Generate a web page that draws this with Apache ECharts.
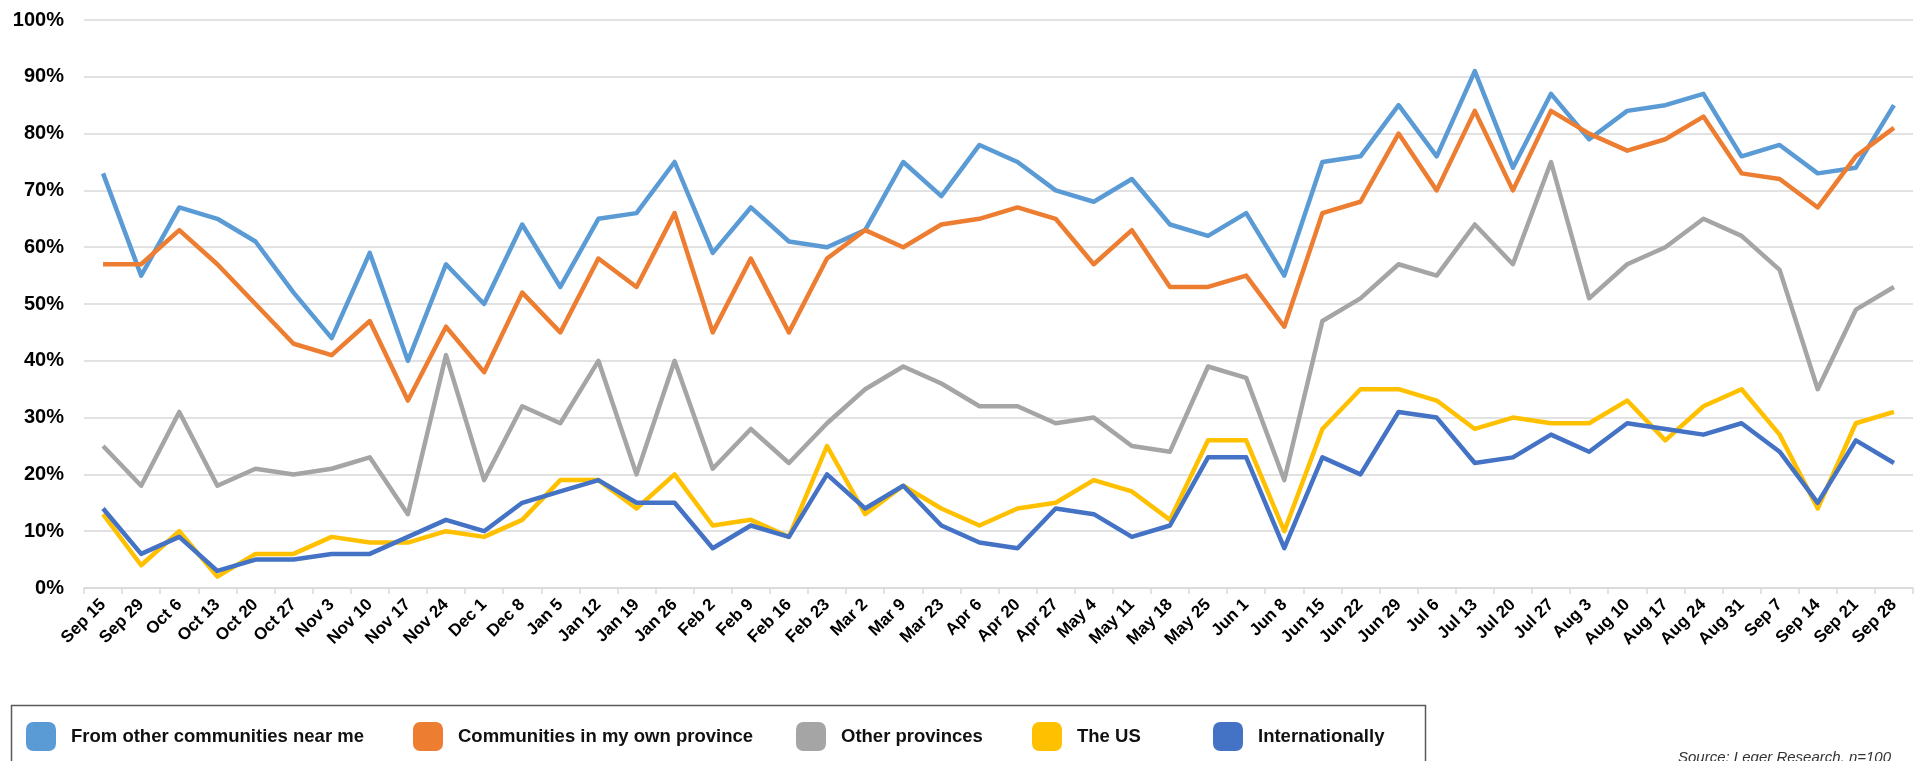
<!DOCTYPE html>
<html>
<head>
<meta charset="utf-8">
<title>Travel comfort tracker</title>
<script src="https://cdn.jsdelivr.net/npm/echarts@6/dist/echarts.min.js"></script>
<style>
  html, body { margin: 0; padding: 0; background: #ffffff; }
  #chart { width: 1923px; height: 761px; }
</style>
</head>
<body>
<div id="chart"></div>
<script>
// Weekly survey waves
const categories = ['Sep 15','Sep 29','Oct 6','Oct 13','Oct 20','Oct 27','Nov 3','Nov 10','Nov 17','Nov 24',
  'Dec 1','Dec 8','Jan 5','Jan 12','Jan 19','Jan 26','Feb 2','Feb 9','Feb 16','Feb 23',
  'Mar 2','Mar 9','Mar 23','Apr 6','Apr 20','Apr 27','May 4','May 11','May 18','May 25',
  'Jun 1','Jun 8','Jun 15','Jun 22','Jun 29','Jul 6','Jul 13','Jul 20','Jul 27','Aug 3',
  'Aug 10','Aug 17','Aug 24','Aug 31','Sep 7','Sep 14','Sep 21','Sep 28'];

// Share of respondents (%) for each travel origin
const nearMe = [73,55,67,65,61,52,44,59,40,57, 50,64,53,65,66,75,59,67,61,60,
  63,75,69,78,75,70,68,72,64,62, 66,55,75,76,85,76,91,74,87,79, 84,85,87,76,78,73,74,85];
const ownProvince = [57,57,63,57,50,43,41,47,33,46, 38,52,45,58,53,66,45,58,45,58,
  63,60,64,65,67,65,57,63,53,53, 55,46,66,68,80,70,84,70,84,80, 77,79,83,73,72,67,76,81];
const otherProvinces = [25,18,31,18,21,20,21,23,13,41, 19,32,29,40,20,40,21,28,22,29,
  35,39,36,32,32,29,30,25,24,39, 37,19,47,51,57,55,64,57,75,51, 57,60,65,62,56,35,49,53];
const theUS = [13,4,10,2,6,6,9,8,8,10, 9,12,19,19,14,20,11,12,9,25,
  13,18,14,11,14,15,19,17,12,26, 26,10,28,35,35,33,28,30,29,29, 33,26,32,35,27,14,29,31];
const internationally = [14,6,9,3,5,5,6,6,9,12, 10,15,17,19,15,15,7,11,9,20,
  14,18,11,8,7,14,13,9,11,23, 23,7,23,20,31,30,22,23,27,24, 29,28,27,29,24,15,26,22];

const seriesNames = ['From other communities near me', 'Communities in my own province',
  'Other provinces', 'The US', 'Internationally'];
const seriesData = [nearMe, ownProvince, otherProvinces, theUS, internationally];
const seriesColors = ['#5B9BD5', '#ED7D31', '#A5A5A5', '#FFC000', '#4472C4'];
const legendLeft = [26, 413, 796, 1032, 1213];

const axisFont = "'Liberation Sans', Arial, sans-serif";

const chart = echarts.init(document.getElementById('chart'), null, { renderer: 'canvas' });

chart.setOption({
  animation: false,
  backgroundColor: '#ffffff',
  grid: { left: 84, right: 10, top: 20, bottom: 173, containLabel: false },
  xAxis: {
    type: 'category',
    data: categories,
    boundaryGap: true,
    axisLine: { show: true, lineStyle: { color: '#D9D9D9', width: 1.5 } },
    axisTick: { show: true, length: 6, lineStyle: { color: '#D9D9D9', width: 1.5 } },
    axisLabel: {
      interval: 0,
      rotate: 45,
      margin: 14,
      color: '#000000',
      fontFamily: axisFont,
      fontWeight: 'bold',
      fontSize: 17
    },
    splitLine: { show: false }
  },
  yAxis: {
    type: 'value',
    min: 0,
    max: 100,
    interval: 10,
    axisLine: { show: false },
    axisTick: { show: false },
    axisLabel: {
      formatter: '{value}%',
      margin: 20,
      color: '#000000',
      fontFamily: axisFont,
      fontWeight: 'bold',
      fontSize: 20
    },
    splitLine: { show: true, lineStyle: { color: '#D9D9D9', width: 1.5 } }
  },
  legend: seriesNames.map((name, i) => ({
    data: [name],
    left: legendLeft[i],
    top: 722,
    padding: 0,
    itemGap: 0,
    itemWidth: 30,
    itemHeight: 29,
    icon: 'roundRect',
    selectedMode: false,
    textStyle: {
      fontFamily: axisFont,
      fontWeight: 'bold',
      fontSize: 18.5,
      color: '#111111',
      padding: [0, 0, 0, 10]
    }
  })),
  graphic: [
    {
      type: 'rect',
      left: 9,
      top: 703,
      shape: { width: 1414, height: 80 },
      style: { fill: 'none', stroke: '#5a5a5a', lineWidth: 1.5 },
      z: 0
    },
    {
      type: 'text',
      left: 1678,
      top: 750,
      style: {
        text: 'Source: Leger Research, n=100',
        font: "italic 15px 'Liberation Sans', Arial, sans-serif",
        fill: '#333333'
      }
    }
  ],
  series: seriesNames.map((name, i) => ({
    name: name,
    type: 'line',
    data: seriesData[i],
    showSymbol: false,
    symbol: 'none',
    color: seriesColors[i],
    lineStyle: { color: seriesColors[i], width: 4.5, join: 'round' },
    itemStyle: { color: seriesColors[i] }
  }))
});
</script>
</body>
</html>
